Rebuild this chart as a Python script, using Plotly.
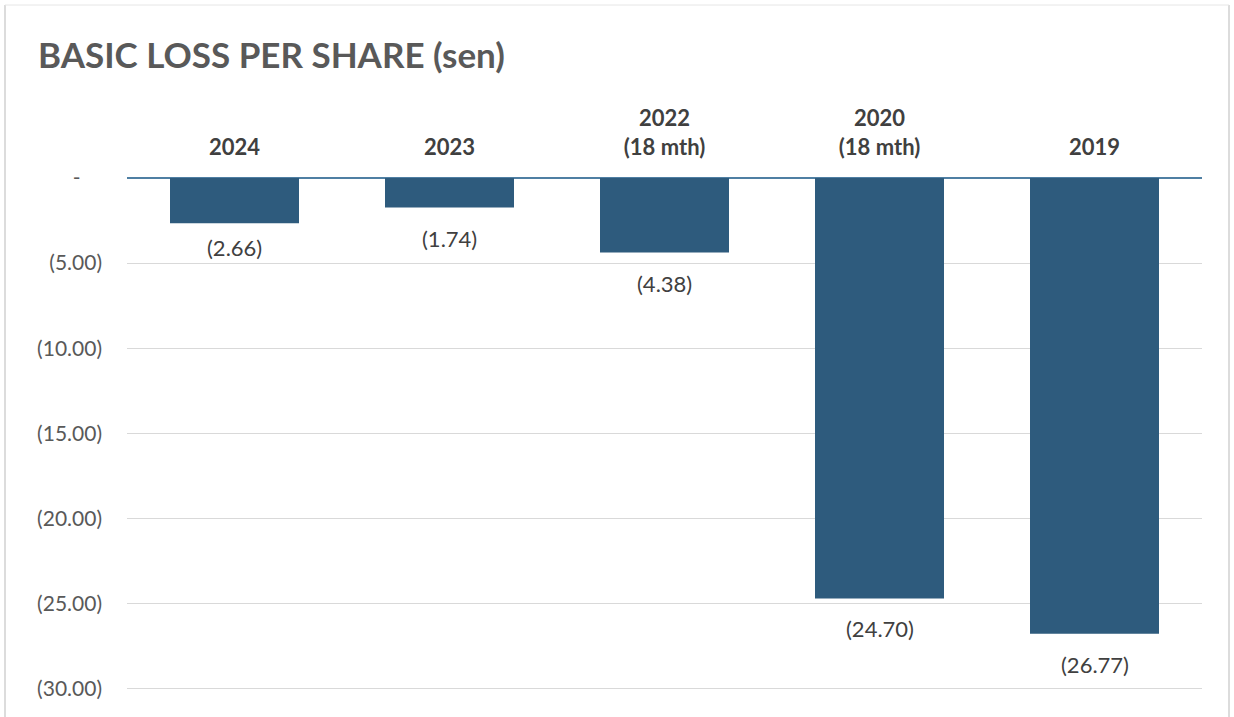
import plotly.graph_objects as go

categories = ["2024", "2023", "2022<br>(18 mth)", "2020<br>(18 mth)", "2019"]
values = [-2.66, -1.74, -4.38, -24.70, -26.77]
tick_vals = [0, -5, -10, -15, -20, -25, -30]
tick_text = ["-    ", "(5.00)", "(10.00)", "(15.00)", "(20.00)", "(25.00)", "(30.00)"]

labels = [f"({abs(v):.2f})" for v in values]
xpos = list(range(len(categories)))

FONT = "Lato, Open Sans, sans-serif"

fig = go.Figure()
fig.add_trace(go.Bar(
    x=xpos, y=values, width=0.6,
    marker=dict(color="#2e5b7d", line=dict(width=0)),
    hovertext=categories,
))

for xi, v, t in zip(xpos, values, labels):
    fig.add_annotation(x=xi, y=v, text=t, showarrow=False, yanchor="top",
                       yshift=-9 if xi == 0 else -15,
                       font=dict(family=FONT, size=22, color="#404040"))

L, R, T, B = 127, 32, 178, 27
W, H = 1234, 717
pw, ph = W - L - R, H - T - B

def px(x):
    return (x - L) / pw

def py(y):
    return (H - B - y) / ph

fig.update_layout(
    width=W, height=H,
    margin=dict(l=L, r=R, t=T, b=B),
    paper_bgcolor="white", plot_bgcolor="white",
    showlegend=False,
    title=dict(text="<b>BASIC LOSS PER SHARE (sen)</b>", x=38 / W, xref="container", xanchor="left",
               y=1 - 56 / H, yref="container", yanchor="middle",
               font=dict(family=FONT, size=35, color="#595959")),
    xaxis=dict(type="linear", range=[-0.5, len(categories) - 0.5],
               tickvals=xpos, ticktext=categories,
               side="top", showgrid=False, showline=False, zeroline=False, ticks="",
               tickfont=dict(family=FONT, size=22, color="#404040", weight="bold"),
               ticklabelstandoff=18),
    yaxis=dict(range=[-30.08, 0], tickvals=tick_vals, ticktext=tick_text,
               showgrid=True, gridcolor="#d9d9d9", gridwidth=1.2,
               zeroline=True, zerolinecolor="#4f7fa3", zerolinewidth=1.6,
               showline=False, ticks="",
               tickfont=dict(family=FONT, size=21, color="#595959"),
               ticklabelstandoff=24),
    shapes=[
        dict(type="line", xref="paper", yref="paper", x0=px(5), x1=px(5), y0=py(5), y1=py(720),
             line=dict(color="#d0d0d0", width=1.5)),
        dict(type="line", xref="paper", yref="paper", x0=px(1229), x1=px(1229), y0=py(5), y1=py(720),
             line=dict(color="#d0d0d0", width=1.5)),
        dict(type="line", xref="paper", yref="paper", x0=px(5), x1=px(1229), y0=py(5), y1=py(5),
             line=dict(color="#e6e6e6", width=1)),
    ],
)

fig.write_html("out.html")
